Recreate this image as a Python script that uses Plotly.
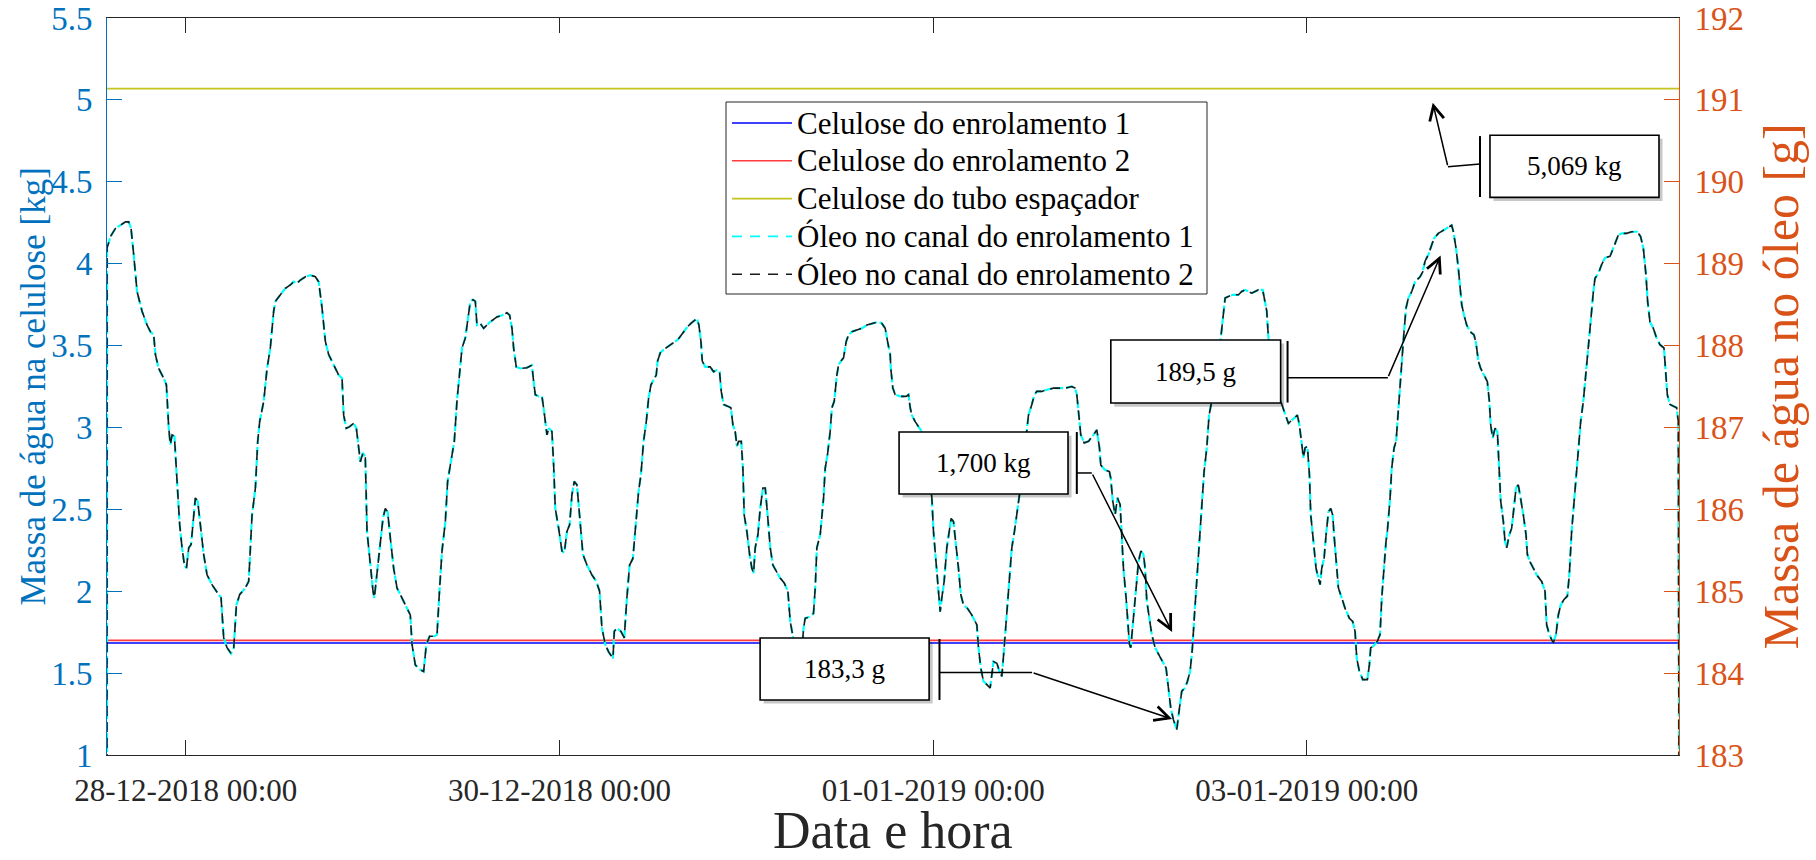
import pandas as pd
import plotly.graph_objects as go

# ---------------- data ----------------
INICIO = "2018-12-28 00:00"          # reference instant for the hour offsets
rotulos_x = ["28-12-2018 00:00", "30-12-2018 00:00", "01-01-2019 00:00", "03-01-2019 00:00"]
horas_limites = [-10.12, 191.80]     # first / last sample (hours from 28-12-2018 00:00)

nomes = ["Celulose do enrolamento 1", "Celulose do enrolamento 2", "Celulose do tubo espaçador",
         "Óleo no canal do enrolamento 1", "Óleo no canal do enrolamento 2"]

celulose_enrol_1 = [1.684, 1.684]    # kg
celulose_enrol_2 = [1.700, 1.700]    # kg
celulose_tubo = [5.069, 5.069]       # kg

horas_oleo = [
    -10.12, -10.11, -9.68, -9.04, -8.40, -7.76, -7.33, -7.03, -6.69, -6.26,
    -5.62, -4.97, -4.55, -4.12, -3.90, -3.48, -2.83, -2.49, -2.19, -1.98,
    -1.76, -1.46, -1.12, -0.78, -0.48, -0.18, 0.08, 0.38, 0.68, 1.02,
    1.23, 1.53, 1.87, 2.30, 2.73, 3.37, 3.93, 4.53, 4.87, 5.30,
    5.81, 6.16, 6.50, 6.93, 7.65, 8.08, 8.51, 8.94, 9.24, 9.49,
    10.01, 10.44, 10.86, 11.29, 11.51, 12.15, 12.79, 13.43, 13.86, 14.29,
    14.72, 15.36, 16.00, 16.64, 17.07, 17.50, 17.93, 18.35, 19.00, 19.64,
    20.07, 20.28, 20.62, 21.05, 21.56, 21.91, 22.21, 22.42, 22.76, 23.06,
    23.28, 23.70, 24.05, 24.22, 24.56, 24.99, 25.33, 25.63, 25.93, 26.27,
    26.70, 27.13, 27.77, 28.41, 28.84, 29.06, 29.48, 30.13, 30.55, 30.90,
    31.32, 31.97, 32.27, 32.61, 32.91, 33.34, 33.63, 33.98, 34.49, 34.83,
    35.26, 35.48, 35.90, 36.33, 36.55, 36.89, 37.19, 37.40, 37.83, 38.26,
    39.11, 39.97, 40.61, 41.25, 41.60, 41.90, 42.11, 42.45, 42.97, 43.82,
    44.46, 44.68, 44.89, 45.32, 45.75, 45.96, 46.18, 46.39, 46.65, 47.03,
    47.25, 47.46, 47.89, 48.32, 48.62, 48.96, 49.30, 49.60, 49.90, 50.24,
    50.46, 50.76, 51.01, 51.53, 52.17, 52.73, 53.15, 53.45, 53.88, 54.31,
    54.87, 55.04, 55.38, 55.89, 56.32, 56.66, 57.01, 57.43, 57.73, 58.16,
    58.46, 58.80, 59.15, 59.45, 59.75, 60.09, 60.43, 60.60, 60.94, 61.37,
    62.01, 62.57, 63.17, 63.51, 63.94, 64.45, 64.88, 65.31, 65.65, 65.91,
    66.17, 66.34, 66.72, 67.36, 67.79, 68.22, 68.56, 68.78, 69.08, 69.59,
    70.02, 70.28, 70.57, 70.79, 71.00, 71.35, 71.56, 71.73, 72.07, 72.42,
    72.71, 72.93, 73.14, 73.49, 73.78, 74.13, 74.43, 74.73, 75.07, 75.41,
    75.84, 76.35, 76.87, 77.34, 77.64, 77.98, 78.28, 78.71, 79.14, 79.35,
    79.56, 80.21, 80.63, 80.85, 81.06, 81.49, 81.92, 82.13, 82.43, 82.77,
    82.99, 83.29, 83.63, 83.84, 84.14, 84.49, 84.83, 85.13, 85.56, 86.20,
    86.84, 87.48, 88.34, 88.98, 89.41, 89.84, 90.14, 90.48, 90.56, 90.82,
    91.12, 91.76, 92.53, 92.83, 93.05, 93.26, 93.69, 94.25, 94.54, 95.19,
    95.61, 95.83, 96.04, 96.39, 96.69, 96.90, 97.11, 97.41, 97.75, 98.05,
    98.31, 98.61, 98.95, 99.25, 99.55, 99.90, 100.41, 100.96, 101.61, 101.82,
    102.12, 102.46, 102.89, 103.32, 103.75, 104.18, 104.52, 104.82, 105.12, 105.37,
    105.80, 106.10, 106.44, 106.74, 107.09, 107.60, 108.03, 108.24, 108.67, 109.01,
    109.31, 109.95, 110.60, 111.45, 112.31, 112.95, 113.81, 114.23, 114.45, 114.75,
    114.96, 115.39, 115.95, 116.59, 117.02, 117.36, 117.53, 118.09, 118.64, 118.81,
    119.07, 119.37, 119.67, 120.01, 120.23, 120.44, 120.78, 120.95, 121.21, 121.38,
    121.72, 122.07, 122.37, 122.67, 123.01, 123.22, 123.44, 123.78, 124.08, 124.51,
    125.06, 125.58, 125.92, 126.22, 126.52, 126.86, 127.29, 127.63, 127.93, 128.36,
    128.66, 129.00, 129.30, 129.56, 129.86, 130.20, 130.50, 130.80, 131.14, 131.44,
    131.70, 132.21, 132.94, 133.28, 133.50, 133.92, 134.57, 135.21, 135.64, 136.06,
    136.49, 136.92, 137.35, 137.78, 138.33, 138.63, 138.85, 139.06, 139.70, 140.34,
    141.63, 142.27, 142.79, 143.04, 143.34, 143.56, 143.77, 144.07, 144.33, 144.50,
    144.84, 145.18, 145.48, 145.70, 145.91, 146.21, 146.47, 146.77, 147.07, 147.32,
    147.49, 147.75, 148.05, 148.48, 148.91, 149.46, 149.89, 150.19, 150.41, 150.75,
    151.18, 151.77, 152.03, 152.20, 152.55, 153.06, 153.40, 153.62, 153.92, 154.17,
    154.34, 154.69, 154.90, 155.20, 155.46, 155.63, 155.88, 156.18, 156.48, 156.74,
    157.04, 157.47, 157.90, 158.54, 158.88, 159.18, 159.61, 160.04, 160.34, 160.89,
    161.53, 162.18, 162.60, 162.82, 163.16, 163.46, 163.67, 163.89, 164.19, 164.53,
    164.96, 165.47, 165.73, 166.03, 166.33, 166.76, 167.18, 167.44, 167.61, 167.87,
    168.17, 168.47, 168.72, 168.90, 169.24, 169.45, 169.67, 170.01, 170.31, 170.61,
    170.87, 171.16, 171.46, 171.81, 172.15, 172.32, 172.66, 173.09, 173.52, 174.16,
    174.59, 174.80, 175.15, 175.44, 175.66, 176.00, 176.30, 176.60, 177.03, 177.46,
    177.71, 178.01, 178.31, 178.66, 178.87, 179.17, 179.51, 179.85, 180.15, 180.45,
    180.80, 181.01, 181.44, 181.87, 182.29, 182.94, 183.36, 183.71, 184.01, 184.43,
    185.08, 185.72, 186.45, 186.87, 187.22, 187.56, 187.77, 188.07, 188.50, 188.93,
    189.36, 189.87, 190.13, 190.30, 190.64, 191.15, 191.50, 191.71, 191.80,
]

oleo_canal_1 = [
    182.50, 189.19, 189.33, 189.43, 189.47, 189.51, 189.51, 189.43, 189.11, 188.66,
    188.42, 188.25, 188.17, 188.13, 187.89, 187.72, 187.60, 187.52, 186.99, 186.79,
    186.91, 186.89, 186.34, 185.81, 185.53, 185.32, 185.28, 185.53, 185.57, 185.93,
    186.14, 186.10, 185.81, 185.45, 185.20, 185.08, 185.00, 184.92, 184.43, 184.31,
    184.24, 184.31, 184.83, 184.96, 185.04, 185.12, 185.93, 186.26, 186.83, 187.07,
    187.32, 187.72, 187.97, 188.42, 188.54, 188.62, 188.70, 188.74, 188.78, 188.76,
    188.80, 188.84, 188.86, 188.84, 188.78, 188.46, 188.05, 187.89, 187.76, 187.64,
    187.60, 187.15, 186.99, 187.01, 187.05, 186.99, 186.75, 186.58, 186.69, 186.63,
    185.73, 185.32, 185.00, 184.92, 185.20, 185.53, 185.89, 186.01, 185.97, 185.65,
    185.28, 185.04, 184.92, 184.79, 184.71, 184.35, 184.10, 184.04, 184.02, 184.35,
    184.45, 184.45, 184.47, 185.04, 185.49, 185.85, 186.34, 186.54, 186.83, 187.32,
    187.72, 187.97, 188.09, 188.37, 188.54, 188.56, 188.54, 188.25, 188.27, 188.21,
    188.29, 188.35, 188.37, 188.40, 188.37, 188.21, 187.97, 187.74, 187.72, 187.73,
    187.76, 187.56, 187.40, 187.38, 187.38, 187.24, 187.07, 186.91, 186.99, 186.95,
    186.54, 186.01, 185.77, 185.49, 185.47, 185.73, 185.81, 186.18, 186.34, 186.30,
    186.06, 185.69, 185.45, 185.32, 185.20, 185.12, 185.00, 184.55, 184.35, 184.26,
    184.18, 184.51, 184.55, 184.51, 184.43, 184.92, 185.32, 185.40, 185.73, 186.22,
    186.42, 186.83, 187.07, 187.36, 187.52, 187.58, 187.64, 187.81, 187.91, 187.95,
    187.99, 188.03, 188.07, 188.11, 188.17, 188.23, 188.27, 188.31, 188.33, 188.25,
    188.05, 187.81, 187.74, 187.74, 187.68, 187.70, 187.68, 187.44, 187.28, 187.26,
    187.24, 187.03, 186.95, 186.77, 186.83, 186.83, 186.50, 185.93, 185.73, 185.45,
    185.28, 185.22, 185.53, 185.69, 186.01, 186.26, 186.26, 185.93, 185.53, 185.32,
    185.24, 185.16, 185.10, 185.00, 184.63, 184.45, 184.35, 184.22, 184.26, 184.55,
    184.67, 184.69, 184.73, 185.04, 185.53, 185.69, 186.14, 186.50, 186.67, 186.95,
    187.24, 187.32, 187.64, 187.76, 187.81, 187.85, 188.05, 188.13, 188.17, 188.19,
    188.21, 188.25, 188.27, 188.29, 188.27, 188.21, 188.05, 187.89, 187.72, 187.48,
    187.40, 187.38, 187.38, 187.40, 187.24, 187.15, 187.07, 186.99, 186.95, 186.75,
    186.34, 186.14, 185.73, 185.36, 185.04, 184.75, 184.92, 185.12, 185.53, 185.73,
    185.89, 185.85, 185.57, 185.28, 184.96, 184.83, 184.79, 184.71, 184.59, 184.31,
    184.06, 183.90, 183.86, 183.82, 184.14, 184.12, 184.02, 183.96, 184.31, 184.63,
    185.20, 185.53, 185.73, 185.93, 186.18, 186.58, 186.99, 187.15, 187.28, 187.40,
    187.44, 187.44, 187.46, 187.48, 187.48, 187.48, 187.50, 187.48, 187.40, 187.15,
    186.91, 186.81, 186.83, 186.91, 186.97, 186.75, 186.54, 186.48, 186.46, 186.38,
    186.10, 185.93, 186.14, 186.06, 185.69, 185.28, 184.92, 184.71, 184.35, 184.31,
    184.71, 185.04, 185.36, 185.49, 185.45, 185.28, 184.88, 184.63, 184.47, 184.31,
    184.22, 184.12, 184.06, 183.82, 183.57, 183.43, 183.31, 183.57, 183.78, 183.82,
    183.90, 184.02, 184.31, 184.71, 185.12, 185.61, 186.01, 186.46, 186.75, 187.15,
    187.28, 187.68, 188.09, 188.37, 188.58, 188.60, 188.62, 188.62, 188.66, 188.68,
    188.66, 188.64, 188.66, 188.68, 188.68, 188.54, 188.42, 188.09, 187.76, 187.40,
    187.05, 187.11, 187.15, 187.03, 186.83, 186.63, 186.75, 186.77, 186.42, 185.93,
    185.61, 185.28, 185.16, 185.08, 185.28, 185.40, 185.69, 185.97, 186.01, 185.93,
    185.69, 185.36, 185.04, 184.92, 184.79, 184.67, 184.63, 184.51, 184.18, 184.02,
    183.92, 183.92, 184.10, 184.31, 184.33, 184.39, 184.47, 184.92, 185.32, 185.61,
    185.73, 186.14, 186.50, 186.75, 186.83, 187.07, 187.40, 187.81, 188.17, 188.46,
    188.58, 188.66, 188.78, 188.84, 188.90, 189.03, 189.11, 189.23, 189.31, 189.37,
    189.41, 189.45, 189.47, 189.39, 189.19, 188.94, 188.70, 188.50, 188.37, 188.25,
    188.17, 188.13, 188.03, 187.81, 187.72, 187.64, 187.56, 187.32, 187.03, 186.87,
    186.99, 186.95, 186.50, 186.10, 185.85, 185.61, 185.53, 185.69, 185.77, 186.01,
    186.26, 186.30, 186.14, 185.93, 185.69, 185.45, 185.36, 185.28, 185.20, 185.12,
    185.00, 184.59, 184.47, 184.41, 184.37, 184.47, 184.71, 184.83, 184.90, 184.94,
    185.20, 185.73, 186.06, 186.42, 186.75, 187.07, 187.32, 187.64, 187.97, 188.29,
    188.66, 188.82, 188.88, 188.99, 189.07, 189.09, 189.19, 189.27, 189.35, 189.37,
    189.37, 189.39, 189.39, 189.33, 189.19, 188.86, 188.54, 188.29, 188.21, 188.09,
    188.01, 187.97, 187.68, 187.40, 187.28, 187.26, 187.24, 187.07, 182.50,
]
oleo_canal_2 = list(oleo_canal_1)   # both channel curves coincide in the figure

# callout labels and the (hour, value) each one points at
rotulos_chamada = ["5,069 kg", "189,5 g", "1,700 kg", "183,3 g"]
alvos_chamada = [(160.17, 4.983), (161.18, 189.10), (126.69, 1.751), (126.69, 183.44)]
eixos_chamada = ["y", "y2", "y", "y2"]

# ---------------- helpers ----------------
t0 = pd.Timestamp(INICIO)


def T(h):
    return (t0 + pd.Timedelta(hours=h)).round("s")


Y1 = (1.0, 5.5)
Y2 = (183.0, 192.0)


def kg_para_g(v):
    return Y2[0] + (v - Y1[0]) * (Y2[1] - Y2[0]) / (Y1[1] - Y1[0])


W, H = 1816, 860
ML, MR, MT, MB = 107, 137, 18, 105
PW, PH = W - ML - MR, H - MT - MB


def px(x):          # pixel -> paper (layout helper for legend / titles)
    return (x - ML) / PW


def py(y):
    return (H - MB - y) / PH


t_oleo = [T(h) for h in horas_oleo]
t_lim = [T(h) for h in horas_limites]

SERIF = "Liberation Serif, Times New Roman, serif"
AZUL_EIXO = "#0072BD"
LARANJA_EIXO = "#D95319"
CINZA = "#262626"

estilos = [
    dict(color="#0000FF", width=1.6, dash="solid"),
    dict(color="#FF3B3B", width=1.6, dash="solid"),
    dict(color="#C4C41C", width=1.6, dash="solid"),
    dict(color="#00FFFF", width=2.2, dash="8px,3px"),
    dict(color="#1a1a1a", width=1.6, dash="10px,6px"),
]

fig = go.Figure()
fig.add_trace(go.Scatter(x=t_lim, y=celulose_enrol_1, name=nomes[0], mode="lines", line=estilos[0]))
fig.add_trace(go.Scatter(x=t_lim, y=celulose_enrol_2, name=nomes[1], mode="lines", line=estilos[1]))
fig.add_trace(go.Scatter(x=t_lim, y=celulose_tubo, name=nomes[2], mode="lines", line=estilos[2]))
fig.add_trace(go.Scatter(x=t_oleo, y=oleo_canal_1, name=nomes[3], mode="lines", yaxis="y2",
                         line=estilos[3]))
fig.add_trace(go.Scatter(x=t_oleo, y=oleo_canal_2, name=nomes[4], mode="lines", yaxis="y2",
                         line=estilos[4]))

# ---------------- callouts (Word-style line callouts) ----------------
geometria = [
    dict(caixa=(167.52, 189.23, 4.405, 4.784), barra=(166.24, 4.407, 4.779),
         inicio=(166.24, 4.608), cotovelo=(162.12, 4.592)),
    dict(caixa=(118.82, 140.63, 3.149, 3.534), barra=(141.52, 3.152, 3.528),
         inicio=(141.52, 3.304), cotovelo=(154.40, 3.304)),
    dict(caixa=(91.62, 113.32, 2.594, 2.972), barra=(114.45, 2.594, 2.972),
         inicio=(114.45, 2.722), cotovelo=(116.38, 2.722)),
    dict(caixa=(73.77, 95.48, 1.336, 1.714), barra=(96.81, 1.336, 1.708),
         inicio=(96.81, 1.504), cotovelo=(108.71, 1.504)),
]

shapes = []
annotations = []
for rot, alvo, eixo, g in zip(rotulos_chamada, alvos_chamada, eixos_chamada, geometria):
    h0, h1, v0, v1 = g["caixa"]
    shapes.append(dict(type="rect", xref="x", yref="y", x0=T(h0 + 0.45), x1=T(h1 + 0.45),
                       y0=v0 - 0.022, y1=v1 - 0.022, line=dict(width=0),
                       fillcolor="rgba(0,0,0,0.22)", layer="above"))
    shapes.append(dict(type="rect", xref="x", yref="y", x0=T(h0), x1=T(h1), y0=v0, y1=v1,
                       line=dict(color="black", width=1.6), fillcolor="white", layer="above"))
    bh, b0, b1 = g["barra"]
    shapes.append(dict(type="line", xref="x", yref="y", x0=T(bh), x1=T(bh), y0=b0, y1=b1,
                       line=dict(color="black", width=2), layer="above"))
    (sh, sv), (ch, cv) = g["inicio"], g["cotovelo"]
    shapes.append(dict(type="line", xref="x", yref="y", x0=T(sh), x1=T(ch), y0=sv, y1=cv,
                       line=dict(color="black", width=1.5), layer="above"))
    annotations.append(dict(x=T((h0 + h1) / 2), y=(v0 + v1) / 2, xref="x", yref="y",
                            text=rot, showarrow=False,
                            font=dict(family=SERIF, size=27, color="black")))
    ay = cv if eixo == "y" else kg_para_g(cv)
    annotations.append(dict(x=T(alvo[0]), y=alvo[1], xref="x", yref=eixo,
                            ax=T(ch), ay=ay, axref="x", ayref=eixo,
                            text="", showarrow=True, arrowhead=5, arrowsize=1.9,
                            arrowwidth=1.5, arrowcolor="black", standoff=0, startstandoff=0,
                            font=dict(size=1)))

# ---------------- legend box (drawn to match the original's geometry) ----------------
shapes.append(dict(type="rect", xref="paper", yref="paper", x0=px(726), x1=px(1207),
                   y0=py(294), y1=py(102), line=dict(color=CINZA, width=1),
                   fillcolor="white", layer="above"))
for i, (nome, est) in enumerate(zip(nomes, estilos)):
    yy = py(123 + 37.8 * i)
    dash = est["dash"] if est["dash"] == "solid" else "10px,8px"
    shapes.append(dict(type="line", xref="paper", yref="paper", x0=px(732), x1=px(792),
                       y0=yy, y1=yy, layer="above",
                       line=dict(color=est["color"], width=1.6, dash=dash)))
    annotations.append(dict(x=px(795), y=yy, xref="paper", yref="paper", text=nome,
                            showarrow=False, xanchor="left", yanchor="middle",
                            font=dict(family=SERIF, size=31, color="black")))

# axis titles
annotations.append(dict(x=0.5, y=py(830), xref="paper", yref="paper", text="Data e hora",
                        showarrow=False, xanchor="center", yanchor="middle",
                        font=dict(family=SERIF, size=52, color=CINZA)))
annotations.append(dict(x=px(33), y=0.5, xref="paper", yref="paper",
                        text="Massa de água na celulose [kg]", textangle=-90,
                        showarrow=False, xanchor="center", yanchor="middle",
                        font=dict(family=SERIF, size=35, color=AZUL_EIXO)))
annotations.append(dict(x=px(1780), y=0.5, xref="paper", yref="paper",
                        text="Massa de água no óleo [g]", textangle=-90,
                        showarrow=False, xanchor="center", yanchor="middle",
                        font=dict(family=SERIF, size=50, color=LARANJA_EIXO)))

tick_datas = [pd.to_datetime(s, format="%d-%m-%Y %H:%M") for s in rotulos_x]

fig.update_layout(
    width=W, height=H,
    margin=dict(l=ML, r=MR, t=MT, b=MB, autoexpand=False),
    paper_bgcolor="white", plot_bgcolor="white",
    font=dict(family=SERIF, size=30, color=CINZA),
    showlegend=False,
    xaxis=dict(type="date", range=t_lim, tickvals=tick_datas, ticktext=rotulos_x,
               automargin=False,
               showgrid=False, zeroline=False, showline=True, linecolor=CINZA, linewidth=1,
               mirror="ticks", ticks="inside", ticklen=15, tickcolor=CINZA,
               tickfont=dict(family=SERIF, size=31, color=CINZA), ticklabelstandoff=8),
    yaxis=dict(range=list(Y1), dtick=0.5, tick0=1, showgrid=False, zeroline=False,
               automargin=False,
               showline=True, linecolor=AZUL_EIXO, linewidth=1, ticks="inside", ticklen=15,
               tickcolor=AZUL_EIXO, tickfont=dict(family=SERIF, size=33, color=AZUL_EIXO),
               ticklabelstandoff=7),
    yaxis2=dict(range=list(Y2), dtick=1, tick0=183, overlaying="y", side="right", anchor="x",
                automargin=False,
                showgrid=False, zeroline=False, showline=True, linecolor=LARANJA_EIXO,
                linewidth=1, ticks="inside", ticklen=15, tickcolor=LARANJA_EIXO,
                tickfont=dict(family=SERIF, size=33, color=LARANJA_EIXO), ticklabelstandoff=8),
    shapes=shapes,
    annotations=annotations,
)

fig.write_html("out.html", config={"displayModeBar": False},
               post_script="document.body.style.margin='0px';document.body.style.overflow='hidden';")
